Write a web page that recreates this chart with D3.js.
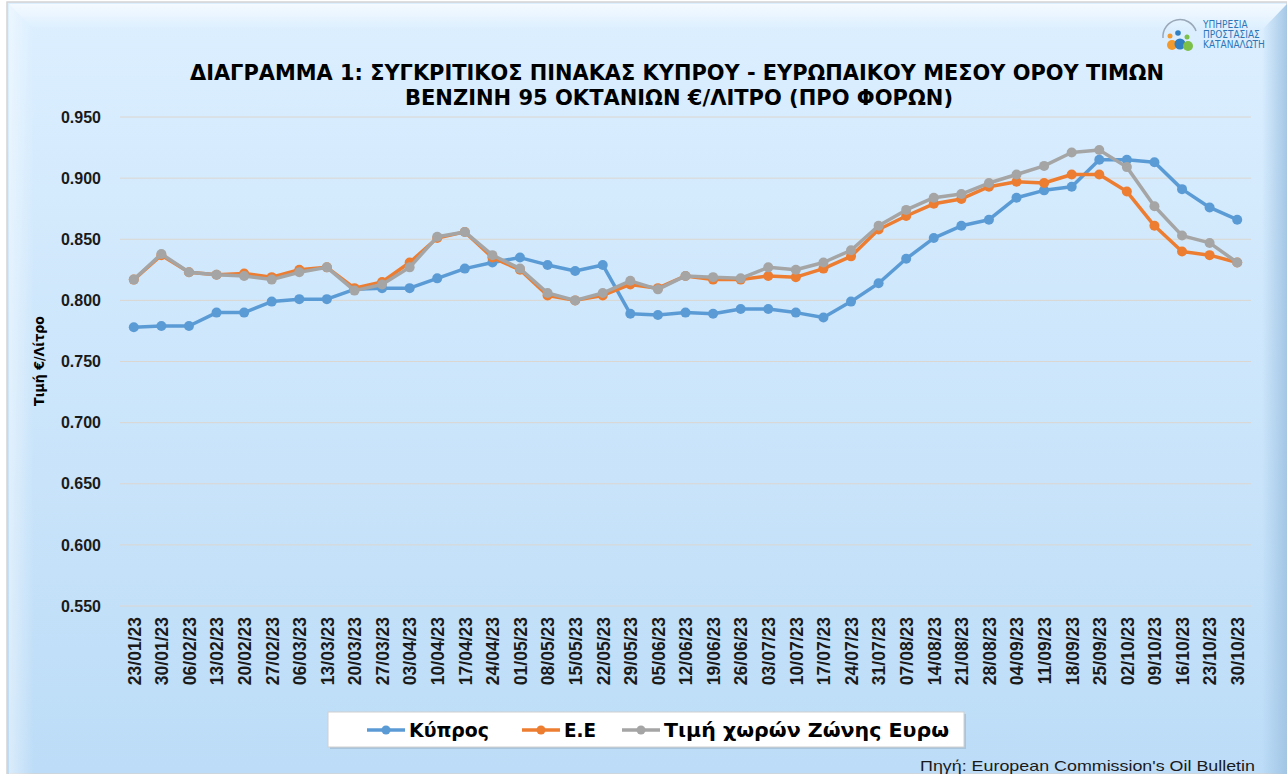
<!DOCTYPE html>
<html>
<head>
<meta charset="utf-8">
<style>
  body { margin: 0; background: #ffffff; }
  svg { display: block; }
  text { font-family: "Liberation Sans Narrow", "DejaVu Sans Condensed", "Liberation Sans", sans-serif; }
</style>
</head>
<body>
<svg id="chart" width="1287" height="774"></svg>
<script src="https://cdn.jsdelivr.net/npm/d3@7"></script>
<script>
// data
const dates = ["23/01/23","30/01/23","06/02/23","13/02/23","20/02/23","27/02/23","06/03/23","13/03/23",
  "20/03/23","27/03/23","03/04/23","10/04/23","17/04/23","24/04/23","01/05/23","08/05/23","15/05/23",
  "22/05/23","29/05/23","05/06/23","12/06/23","19/06/23","26/06/23","03/07/23","10/07/23","17/07/23",
  "24/07/23","31/07/23","07/08/23","14/08/23","21/08/23","28/08/23","04/09/23","11/09/23","18/09/23",
  "25/09/23","02/10/23","09/10/23","16/10/23","23/10/23","30/10/23"]

const kypros = [0.778,0.779,0.779,0.790,0.790,0.799,0.801,0.801,0.809,0.810,0.810,0.818,0.826,0.831,
  0.835,0.829,0.824,0.829,0.789,0.788,0.790,0.789,0.793,0.793,0.790,0.786,0.799,0.814,0.834,0.851,
  0.861,0.866,0.884,0.890,0.893,0.915,0.915,0.913,0.891,0.876,0.866]

const ee = [0.817,0.837,0.823,0.821,0.822,0.819,0.825,0.827,0.810,0.815,0.831,0.851,0.856,0.835,
  0.825,0.804,0.800,0.804,0.813,0.810,0.820,0.817,0.817,0.820,0.819,0.826,0.836,0.858,0.869,0.879,
  0.883,0.893,0.897,0.896,0.903,0.903,0.889,0.861,0.840,0.837,0.831]

const eurozone = [0.817,0.838,0.823,0.821,0.820,0.817,0.823,0.827,0.808,0.813,0.827,0.852,0.856,0.837,
  0.826,0.806,0.800,0.806,0.816,0.809,0.820,0.819,0.818,0.827,0.825,0.831,0.841,0.861,0.874,0.884,
  0.887,0.896,0.903,0.910,0.921,0.923,0.909,0.877,0.853,0.847,0.831]

const yTicks = [0.55,0.60,0.65,0.70,0.75,0.80,0.85,0.90,0.95]

const seriesNames = ["Κύπρος", "Ε.Ε", "Τιμή χωρών Ζώνης Ευρω"]
const seriesColors = ["#5b9bd5", "#ed7d31", "#a5a5a5"]

const svg = d3.select("#chart")
const W = 1287, H = 774

// background + bevel frame
const defs = svg.append("defs")
const bg = defs.append("linearGradient").attr("id", "bg").attr("x1", 0).attr("y1", 0).attr("x2", 0).attr("y2", 1)
bg.append("stop").attr("offset", "0%").attr("stop-color", "#dcefff")
bg.append("stop").attr("offset", "100%").attr("stop-color", "#bcdcf7")
const leftG = defs.append("linearGradient").attr("id", "leftG").attr("x1", 0).attr("y1", 0).attr("x2", 1).attr("y2", 0)
leftG.append("stop").attr("offset", "0%").attr("stop-color", "#ffffff").attr("stop-opacity", 0.45)
leftG.append("stop").attr("offset", "100%").attr("stop-color", "#ffffff").attr("stop-opacity", 0)
const topG = defs.append("linearGradient").attr("id", "topG").attr("x1", 0).attr("y1", 0).attr("x2", 0).attr("y2", 1)
topG.append("stop").attr("offset", "0%").attr("stop-color", "#ffffff").attr("stop-opacity", 0.7)
topG.append("stop").attr("offset", "100%").attr("stop-color", "#ffffff").attr("stop-opacity", 0)
const rightG = defs.append("linearGradient").attr("id", "rightG").attr("x1", 0).attr("y1", 0).attr("x2", 1).attr("y2", 0)
rightG.append("stop").attr("offset", "0%").attr("stop-color", "#9fc3e3").attr("stop-opacity", 0)
rightG.append("stop").attr("offset", "100%").attr("stop-color", "#9fc3e3").attr("stop-opacity", 0.9)

svg.append("rect").attr("x", 7).attr("y", 2).attr("width", W - 7).attr("height", H - 2)
  .attr("fill", "url(#bg)").attr("stroke", "#d4d4d4").attr("stroke-width", 1.5)
svg.append("path").attr("d", `M9,4 L${W},4 L${W - 25},30 L34,30 Z`).attr("fill", "url(#topG)")
svg.append("path").attr("d", `M9,4 L34,30 L34,${H} L9,${H} Z`).attr("fill", "url(#leftG)")
svg.append("path").attr("d", `M${W - 25},30 L${W},4 L${W},${H} L${W - 25},${H} Z`).attr("fill", "url(#rightG)")

// scales
const x = d3.scalePoint().domain(dates).range([120, 1251]).padding(0.5)
const y = d3.scaleLinear().domain([0.55, 0.95]).range([606, 117])

// gridlines
svg.append("g").selectAll("line").data(yTicks).join("line")
  .attr("x1", 120).attr("x2", 1251)
  .attr("y1", d => y(d)).attr("y2", d => y(d))
  .attr("stroke", "#dcd6d0").attr("stroke-width", 1)

// y axis
const yAxis = svg.append("g").attr("transform", "translate(101,0)")
  .call(d3.axisLeft(y).tickValues(yTicks).tickFormat(d3.format(".3f")).tickSize(0).tickPadding(0))
yAxis.select(".domain").remove()
yAxis.selectAll("text").attr("font-size", 16).attr("font-weight", "bold").attr("fill", "#1a1a1a")
  .style("font-family", "'Liberation Sans', sans-serif")

svg.append("text").attr("transform", "translate(44,361) rotate(-90)")
  .attr("text-anchor", "middle").attr("font-size", 14).attr("font-weight", "bold").attr("fill", "#000")
  .text("Τιμή €/Λίτρο")

// x axis
const xAxis = svg.append("g").attr("transform", "translate(0,613)")
  .call(d3.axisBottom(x).tickSize(0).tickPadding(0))
xAxis.select(".domain").remove()
xAxis.selectAll("text")
  .attr("transform", "rotate(-90)").attr("text-anchor", "end")
  .attr("x", -4).attr("y", 0).attr("dy", "0.36em")
  .attr("font-size", 17.5).attr("font-weight", "bold").attr("fill", "#1a1a1a")
  .style("font-family", "'Liberation Sans', sans-serif")

// series
const all = [kypros, ee, eurozone]
const line = d3.line().x((d, i) => x(dates[i])).y(d => y(d))
all.forEach((vals, k) => {
  const g = svg.append("g")
  g.append("path").datum(vals).attr("d", line)
    .attr("fill", "none").attr("stroke", seriesColors[k]).attr("stroke-width", 3.5)
    .attr("stroke-linejoin", "round")
  g.selectAll("circle").data(vals).join("circle")
    .attr("cx", (d, i) => x(dates[i])).attr("cy", d => y(d)).attr("r", 5)
    .attr("fill", seriesColors[k])
})

// title
const title = svg.append("g").attr("font-weight", "bold").attr("fill", "#000").attr("text-anchor", "middle")
title.append("text").attr("x", 677).attr("y", 80).attr("font-size", 22)
  .attr("textLength", 974).attr("lengthAdjust", "spacingAndGlyphs")
  .text("ΔΙΑΓΡΑΜΜΑ 1: ΣΥΓΚΡΙΤΙΚΟΣ ΠΙΝΑΚΑΣ ΚΥΠΡΟΥ - ΕΥΡΩΠΑΙΚΟΥ ΜΕΣΟΥ ΟΡΟΥ ΤΙΜΩΝ")
title.append("text").attr("x", 679).attr("y", 105).attr("font-size", 22)
  .attr("textLength", 548).attr("lengthAdjust", "spacingAndGlyphs")
  .text("ΒΕΝΖΙΝΗ 95 ΟΚΤΑΝΙΩΝ €/ΛΙΤΡΟ (ΠΡΟ ΦΟΡΩΝ)")

// logo
const logo = svg.append("g")
logo.append("path").attr("d", "M1163,38 A17,17 0 0 1 1196,31").attr("fill", "none")
  .attr("stroke", "#9aa8b8").attr("stroke-width", 1.5)
logo.append("circle").attr("cx", 1172).attr("cy", 45).attr("r", 5).attr("fill", "#f29a2e")
logo.append("circle").attr("cx", 1180).attr("cy", 44).attr("r", 5.5).attr("fill", "#2f7fc1")
logo.append("circle").attr("cx", 1188).attr("cy", 46).attr("r", 5).attr("fill", "#7cc04a")
logo.append("circle").attr("cx", 1170).attr("cy", 36).attr("r", 2.5).attr("fill", "#f29a2e")
logo.append("circle").attr("cx", 1178).attr("cy", 33).attr("r", 2.8).attr("fill", "#2f7fc1")
logo.append("circle").attr("cx", 1187).attr("cy", 37).attr("r", 2.5).attr("fill", "#7cc04a")
const logoText = ["ΥΠΗΡΕΣΙΑ", "ΠΡΟΣΤΑΣΙΑΣ", "ΚΑΤΑΝΑΛΩΤΗ"]
logo.selectAll("text").data(logoText).join("text")
  .attr("x", 1203).attr("y", (d, i) => 28 + i * 10)
  .attr("font-size", 10).attr("fill", "#2e75b6").text(d => d)

// legend
const legend = svg.append("g")
legend.append("rect").attr("x", 330).attr("y", 714).attr("width", 636).attr("height", 35)
  .attr("fill", "#9bb4cc").attr("opacity", 0.6)
legend.append("rect").attr("x", 328).attr("y", 712).attr("width", 636).attr("height", 35)
  .attr("fill", "#ffffff").attr("stroke", "#d0d0d0")
const legX = [367, 522, 622]
const legLen = [80, 32, 285]
seriesNames.forEach((name, k) => {
  const lg = legend.append("g").attr("transform", `translate(${legX[k]},730)`)
  lg.append("line").attr("x1", 0).attr("x2", 38).attr("stroke", seriesColors[k]).attr("stroke-width", 3.5)
  lg.append("circle").attr("cx", 19).attr("r", 4.5).attr("fill", seriesColors[k])
  lg.append("text").attr("x", 42).attr("y", 7).attr("font-size", 20).attr("font-weight", "bold")
    .attr("textLength", legLen[k]).attr("lengthAdjust", "spacingAndGlyphs")
    .attr("fill", "#000").text(name)
})

// source
svg.append("text").attr("x", 1255).attr("y", 771).attr("text-anchor", "end")
  .attr("font-size", 15).attr("fill", "#1a1a1a")
  .attr("textLength", 335).attr("lengthAdjust", "spacingAndGlyphs")
  .style("font-family", "'Liberation Sans', sans-serif")
  .text("Πηγή: European Commission's Oil Bulletin")
</script>
</body>
</html>
